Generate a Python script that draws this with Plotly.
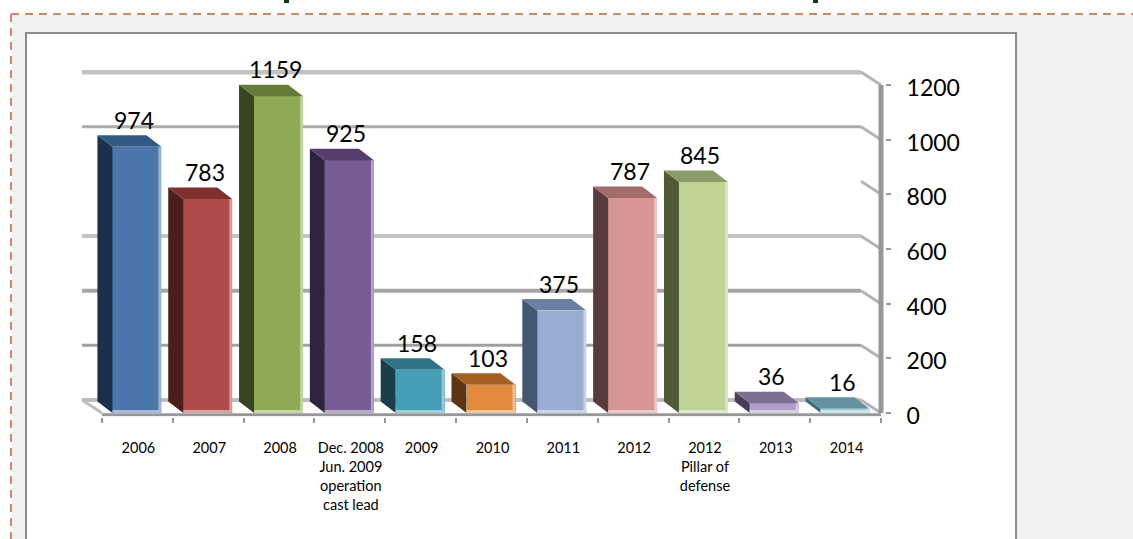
import plotly.graph_objects as go

# ---- data ----
categories = ["2006", "2007", "2008", "Dec. 2008<br>Jun. 2009<br>operation<br>cast lead", "2009", "2010",
              "2011", "2012", "2012<br>Pillar of<br>defense", "2013", "2014"]
values = [974, 783, 1159, 925, 158, 103, 375, 787, 845, 36, 16]
y_ticks = [0, 200, 400, 600, 800, 1000, 1200]

# ---- styles ----
front_colors = ["#4a76ab", "#ae4a47", "#8fa955", "#775b95", "#449fb6", "#e28a3b",
                "#98acd4", "#d69594", "#bfd397", "#b09fc8", "#93cde0"]
side_colors = ["#1b304a", "#4b1d1b", "#38441f", "#2e2340", "#1a3f4a", "#5e3513",
               "#445670", "#5a3b3b", "#4f5936", "#453c55", "#3f6a78"]
top_colors = ["#335a84", "#7f2f2d", "#637a39", "#553d6d", "#2e7386", "#a65f22",
              "#6b7fa3", "#a36c6b", "#8c9b6a", "#7d6e92", "#64919f"]
# width and colour of the back-wall line for each axis value (800 has no visible run)
wall_lines = {0: (4, "#bdbdbd"), 200: (3, "#9f9f9f"), 400: (4, "#a6a6a6"), 600: (4, "#c4c4c4"),
              1000: (3, "#acacac"), 1200: (5, "#c2c2c2")}
AXIS_GRAY = "#979797"
FONT = "Lato"

W, H = 1133, 539
# pixel scale of the plot
PX_X = 779 / 11          # px per category
PX_Y = 328 / 1200        # px per value unit
AXIS_0, AXIS_T = 413, 70
DOM_L, DOM_R, DOM_B = 82, 885, 416.5


def dx(px):
    return px / PX_X


def dy(px):
    return px / PX_Y


def mix(c, t=0.45):
    r, g, b = (int(c[i:i + 2], 16) for i in (1, 3, 5))
    return "rgb(%d,%d,%d)" % tuple(v + (255 - v) * t for v in (r, g, b))


def line(x0, y0, x1, y1, width, color, layer="below", dash=None):
    return dict(type="line", xref="x", yref="y", x0=x0, y0=y0, x1=x1, y1=y1, layer=layer,
                line=dict(width=width, color=color, dash=dash))


def rect_px(x0, y0, x1, y1, fill, lc=None, lw=0):
    return dict(type="rect", xref="paper", yref="paper", x0=x0 / W, x1=x1 / W,
                y0=1 - y0 / H, y1=1 - y1 / H, fillcolor=fill, layer="below",
                line=dict(width=lw, color=lc or fill))


def line_px(x0, y0, x1, y1, width, color, dash=None):
    return dict(type="line", xref="paper", yref="paper", x0=x0 / W, x1=x1 / W,
                y0=1 - y0 / H, y1=1 - y1 / H, layer="below",
                line=dict(width=width, color=color, dash=dash))


idx = list(range(len(categories)))
x_left = idx[0] - 0.5
x_right = idx[-1] + 0.5
wall_dx, wall_dy = dx(20), dy(13)
bar_dx, bar_dy = dx(15), dy(11.5)
bar_w = dx(49)
bar_off = dx(-25)

fig = go.Figure()
fig.add_trace(go.Bar(x=idx, y=values, width=bar_w, offset=bar_off, hoverinfo="skip", showlegend=False,
                     marker=dict(color=front_colors, line=dict(width=0))))


def poly(xs, ys, color):
    fig.add_trace(go.Scatter(x=xs + xs[:1], y=ys + ys[:1], mode="lines", fill="toself", fillcolor=color,
                             line=dict(width=0, color=color), hoverinfo="skip", showlegend=False))


for i, v in zip(idx, values):
    xl = i + bar_off
    xr = xl + bar_w
    poly([xl, xl, xl - bar_dx, xl - bar_dx], [0, v, v + bar_dy, bar_dy], side_colors[i])
    poly([xl - bar_dx, xr - bar_dx, xr, xl], [v + bar_dy, v + bar_dy, v, v], top_colors[i])
    poly([xr - dx(3), xr, xr, xr - dx(3)], [0, 0, v, v], mix(front_colors[i]))
    poly([xl, xr, xr, xl], [0, 0, dy(3), dy(3)], mix(front_colors[i], 0.5))

shapes = [
    rect_px(12, 15, W, H, "#f1f1f1"),
    line_px(11, 14, W, 14, 2, "#cf8769", dash="8px,6px"),
    line_px(11, 14, 11, H, 2, "#cf8769", dash="8px,6px"),
    rect_px(26, 33, 1016, H + 4, "#ffffff", "#8c8c8c", 2),
    rect_px(284, 0, 289, 3, "#0b3d0b"),
    rect_px(813, 0, 818, 3, "#0b3d0b"),
]
# floor edges
shapes.append(line(x_left - wall_dx, wall_dy, x_left, 0, 3, "#bcbcbc"))
# back wall lines and their diagonal returns to the axis
for t in y_ticks:
    shapes.append(line(x_right - wall_dx, t + wall_dy, x_right, t, 3, "#b4b4b4"))
    if t in wall_lines:
        w, c = wall_lines[t]
        shapes.append(line(x_left - wall_dx, t + wall_dy, x_right - wall_dx, t + wall_dy, w, c))
# axis lines
shapes.append(line(x_right, 0, x_right, max(y_ticks), 5, AXIS_GRAY))
shapes.append(line(x_left, dy(-1.8), x_right, dy(-1.8), 3, AXIS_GRAY))

annotations = [dict(x=i, y=v, xref="x", yref="y", text=str(v), showarrow=False,
                    xshift=-3.5, yshift=27, font=dict(family=FONT, size=23, color="#000000"))
               for i, v in zip(idx, values)]

fig.update_layout(
    width=W, height=H, autosize=False,
    margin=dict(l=0, r=0, t=0, b=0),
    paper_bgcolor="#ffffff", plot_bgcolor="rgba(0,0,0,0)",
    showlegend=False, shapes=shapes, annotations=annotations, bargap=0,
    xaxis=dict(domain=[DOM_L / W, DOM_R / W], range=[x_left - wall_dx, x_right + dx(4)],
               automargin=False, showgrid=False, zeroline=False, showline=False,
               tickmode="array", tickvals=idx, ticktext=categories, ticks="",
               ticklabelstandoff=21, ticklabelshift=1,
               tickfont=dict(family=FONT, size=14.5, color="#000000"),
               minor=dict(tickmode="array", tickvals=[i - 0.5 for i in idx] + [x_right],
                          ticks="outside", ticklen=5, tickwidth=2, tickcolor=AXIS_GRAY, showgrid=False)),
    yaxis=dict(domain=[1 - DOM_B / H, 1 - AXIS_T / H],
               range=[-(DOM_B - AXIS_0) / PX_Y, (AXIS_0 - AXIS_T) / PX_Y],
               automargin=False, side="right", showgrid=False, zeroline=False, showline=False,
               tickmode="array", tickvals=y_ticks, ticks="outside", ticklen=5, tickwidth=2, tickcolor=AXIS_GRAY,
               ticklabelstandoff=11, ticklabelshift=3,
               tickfont=dict(family=FONT, size=23, color="#000000")),
)

fig.write_html("out.html", config=dict(displayModeBar=False),
               post_script="document.body.style.margin='0';")
